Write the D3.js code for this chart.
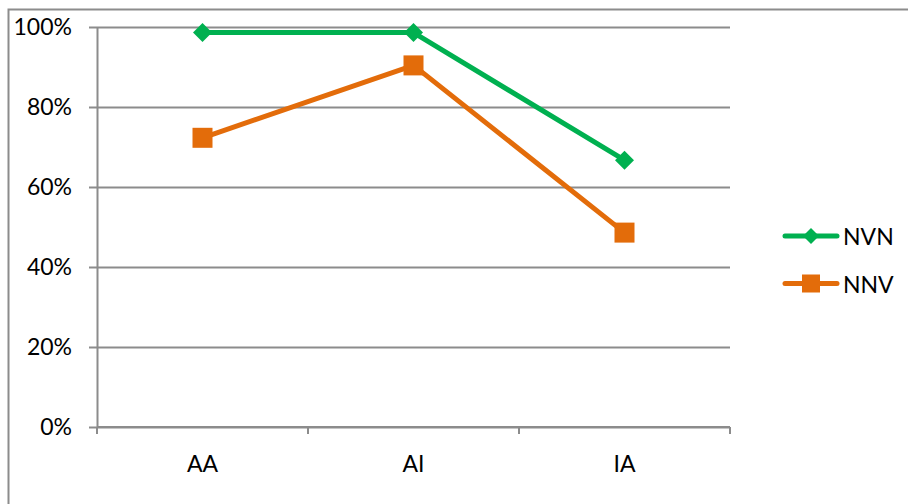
<!DOCTYPE html>
<html>
<head>
<meta charset="utf-8">
<script src="https://cdn.jsdelivr.net/npm/d3@7"></script>
<style>
  html, body { margin: 0; padding: 0; background: #fff; }
  svg { display: block; }
  text { font-family: Lato, "Liberation Sans", Arial, sans-serif; fill: #000; }
</style>
</head>
<body>
<svg id="chart" width="908" height="504"></svg>
<script>
// Categories, series and axis ticks
const categories = ["AA", "AI", "IA"];
const seriesNames = ["NVN", "NNV"];
const nvnValues = [98.6, 98.6, 66.7];
const nnvValues = [72.3, 90.4, 48.6];
const yTicks = [0, 20, 40, 60, 80, 100];
const colors = ["#00B050", "#E36C0A"];

const series = [
  { name: seriesNames[0], values: nvnValues, color: colors[0], marker: "diamond" },
  { name: seriesNames[1], values: nnvValues, color: colors[1], marker: "square" }
];

const svg = d3.select("#chart");
const W = 908, H = 504;
const plot = { left: 97, right: 730, top: 27, bottom: 427 };
const gridColor = "#8c8c8c";
const fontSize = 23;
const fontFamily = "Lato, 'Liberation Sans', Arial, sans-serif";

// Outer chart border
svg.append("rect")
  .attr("x", 8.5).attr("y", 9.5)
  .attr("width", W + 10).attr("height", H + 10)
  .attr("fill", "none").attr("stroke", gridColor).attr("stroke-width", 2);

const x = d3.scaleBand().domain(categories).range([plot.left, plot.right]).paddingInner(0).paddingOuter(0);
const y = d3.scaleLinear().domain([0, 100]).range([plot.bottom, plot.top]);

// Y axis: gridlines across the plot, with short ticks to the left
const yAxis = d3.axisLeft(y)
  .tickValues(yTicks)
  .tickSize(-(plot.right - plot.left))
  .tickSizeOuter(0)
  .tickPadding(25)
  .tickFormat(d => d + "%");

const gy = svg.append("g").attr("transform", `translate(${plot.left},0)`).call(yAxis);
gy.select(".domain").attr("stroke", gridColor).attr("stroke-width", 2);
gy.selectAll(".tick line").attr("stroke", gridColor).attr("stroke-width", 2).attr("x1", -8);
gy.selectAll(".tick text").attr("font-size", fontSize).attr("font-family", fontFamily).attr("fill", "#000");

// X axis with ticks at category boundaries
const gx = svg.append("g").attr("transform", `translate(0,${plot.bottom})`);
gx.append("line")
  .attr("x1", plot.left).attr("x2", plot.right)
  .attr("stroke", gridColor).attr("stroke-width", 2);
const boundaries = categories.map(c => x(c)).concat([x(categories[categories.length - 1]) + x.bandwidth()]);
gx.selectAll("line.tick").data(boundaries).enter().append("line")
  .attr("class", "tick")
  .attr("x1", d => d).attr("x2", d => d)
  .attr("y1", 0).attr("y2", 7)
  .attr("stroke", gridColor).attr("stroke-width", 2);
gx.selectAll("text").data(categories).enter().append("text")
  .attr("x", d => x(d) + x.bandwidth() / 2)
  .attr("y", 36)
  .attr("text-anchor", "middle")
  .attr("dominant-baseline", "central")
  .attr("font-size", fontSize)
  .text(d => d);

// Markers
function drawMarker(g, type, cx, cy, size, color) {
  if (type === "diamond") {
    const h = size / 2;
    g.append("path")
      .attr("d", `M${cx},${cy - h}L${cx + h},${cy}L${cx},${cy + h}L${cx - h},${cy}Z`)
      .attr("fill", color);
  } else {
    g.append("rect")
      .attr("x", cx - size / 2).attr("y", cy - size / 2)
      .attr("width", size).attr("height", size)
      .attr("fill", color);
  }
}

const line = d3.line()
  .x((d, i) => x(categories[i]) + x.bandwidth() / 2)
  .y(d => y(d));

// Lines first, then markers (later series on top)
series.slice().reverse().forEach(s => {
  const g = svg.append("g");
  g.append("path")
    .attr("d", line(s.values))
    .attr("fill", "none")
    .attr("stroke", s.color)
    .attr("stroke-width", 5)
    .attr("stroke-linejoin", "round");
  s.values.forEach((v, i) => {
    drawMarker(g, s.marker, x(categories[i]) + x.bandwidth() / 2, y(v),
      s.marker === "diamond" ? 19 : 20, s.color);
  });
});

// Legend
const legend = svg.append("g");
series.forEach((s, i) => {
  const cy = 236 + i * 47.5;
  const g = legend.append("g");
  g.append("line")
    .attr("x1", 785).attr("x2", 837)
    .attr("y1", cy).attr("y2", cy)
    .attr("stroke", s.color).attr("stroke-width", 5)
    .attr("stroke-linecap", "round");
  drawMarker(g, s.marker, 811, cy, s.marker === "diamond" ? 16 : 18, s.color);
  g.append("text")
    .attr("x", 843).attr("y", cy)
    .attr("dominant-baseline", "central")
    .attr("font-size", fontSize)
    .text(s.name);
});
</script>
</body>
</html>
